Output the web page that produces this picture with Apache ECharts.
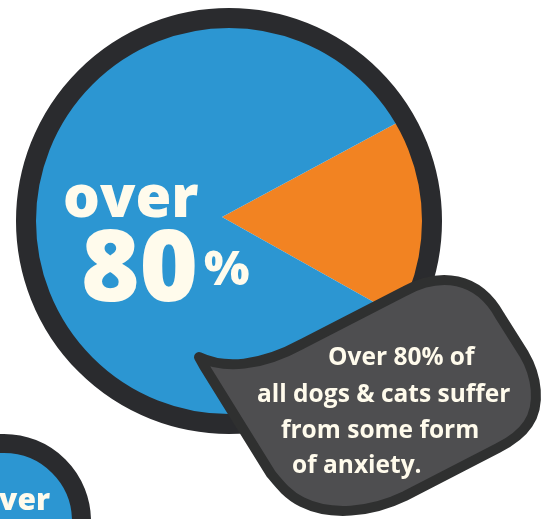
<!DOCTYPE html>
<html><head><meta charset="utf-8">
<script src="https://cdn.jsdelivr.net/npm/echarts@6/dist/echarts.min.js"></script>
<style>html,body{margin:0;padding:0;background:#fff}#c{width:543px;height:519px}</style>
</head><body><div id="c"></div>
<script>
const categories = ['Other', 'Dogs & cats with anxiety'];
const values = [16, 84];
const sliceColors = ['#f28322', '#2c96d2'];
const bigLabel = ['over', '80', '%'];
const bubbleLines = ['Over 80% of', 'all dogs & cats suffer', 'from some form', 'of anxiety.'];
const smallLabel = 'over';

const ink = '#2a2b2e';
const cream = '#fffbec';
const FF = '"Open Sans", sans-serif';

const Bubble = echarts.graphic.extendShape({
  type: 'bubbleShape',
  shape: {},
  buildPath(ctx) {
    ctx.moveTo(199, 357);
    ctx.bezierCurveTo(224, 369, 260, 367, 302, 344);
    ctx.lineTo(405, 291);
    ctx.bezierCurveTo(440, 272, 478, 276, 500, 316);
    ctx.lineTo(524, 354);
    ctx.bezierCurveTo(537, 376, 541, 405, 528, 424);
    ctx.bezierCurveTo(520, 436, 508, 443, 498, 448);
    ctx.lineTo(405, 496);
    ctx.bezierCurveTo(370, 513, 330, 516, 302, 502);
    ctx.bezierCurveTo(288, 495, 280, 485, 271, 474);
    ctx.lineTo(204, 366);
    ctx.closePath();
  }
});
echarts.graphic.registerShape('bubbleShape', Bubble);

const chart = echarts.init(document.getElementById('c'), null, {renderer: 'canvas'});

const bubbleX = [328, 257, 281, 292];
const bubbleY = [358, 395, 431, 466];

chart.setOption({
  animation: false,
  series: [{
    type: 'pie',
    silent: true,
    center: [222, 217],
    radius: 202,
    startAngle: 28.3,
    clockwise: true,
    label: {show: false},
    labelLine: {show: false},
    itemStyle: {borderWidth: 0},
    data: categories.map((n, i) => ({name: n, value: values[i], itemStyle: {color: sliceColors[i]}})),
    z: 1
  }],
  graphic: [
    {type: 'circle', z: 10, shape: {cx: 229, cy: 221, r: 203}, style: {fill: null, stroke: ink, lineWidth: 20}},
    {type: 'text', z: 20, style: {text: bigLabel[0], x: 63, y: 200, font: '800 58px ' + FF, fill: cream, verticalAlign: 'middle'}},
    {type: 'text', z: 20, style: {text: bigLabel[1], x: 81, y: 273, font: '800 100px ' + FF, fill: cream, verticalAlign: 'middle'}},
    {type: 'text', z: 20, style: {text: bigLabel[2], x: 204, y: 271, font: '800 48px ' + FF, fill: cream, verticalAlign: 'middle'}},
    {type: 'bubbleShape', z: 30, shape: {}, style: {fill: '#4e4e50', stroke: '#2f3030', lineWidth: 10, lineJoin: 'round'}},
    ...bubbleLines.map((t, i) => ({type: 'text', z: 40, style: {text: t, x: bubbleX[i], y: bubbleY[i], font: '700 24.5px ' + FF, fill: cream, verticalAlign: 'middle'}})),
    {type: 'circle', z: 5, shape: {cx: 4, cy: 521, r: 77.5}, style: {fill: '#2c96d2', stroke: ink, lineWidth: 19}},
    {type: 'text', z: 6, style: {text: smallLabel, x: 50, y: 501, font: '800 30px ' + FF, fill: cream, align: 'right', verticalAlign: 'middle'}}
  ]
});
</script></body></html>
